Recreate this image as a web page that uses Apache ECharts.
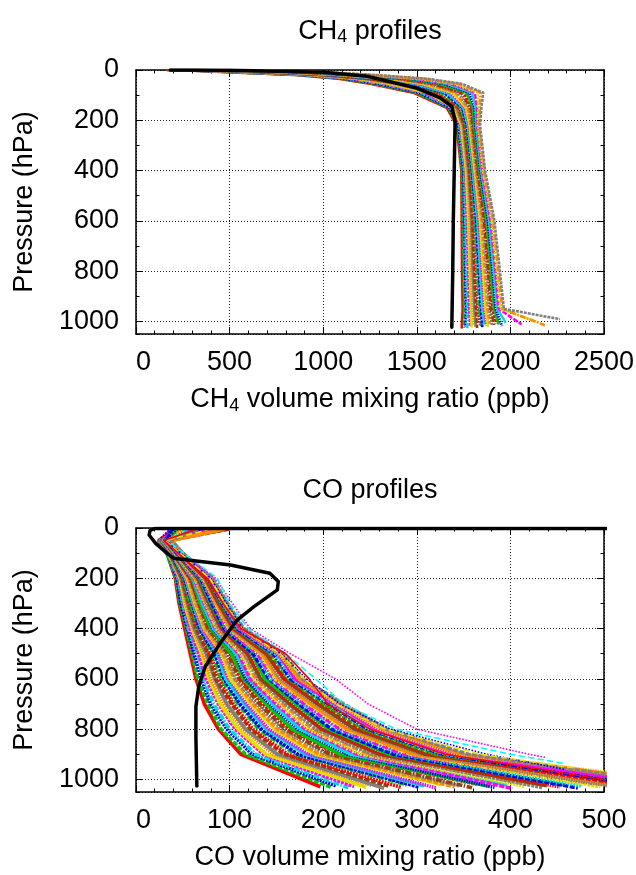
<!DOCTYPE html>
<html><head><meta charset="utf-8">
<script src="https://cdn.jsdelivr.net/npm/echarts@6/dist/echarts.min.js"></script>
<style>html,body{margin:0;padding:0;background:#fff}#c{width:636px;height:875px}</style>
</head><body><div id="c"></div>
<script>
// ---------------- CH4 panel data ----------------
const ch4Levels = [0, 3, 8, 20, 35, 55, 90, 150, 220, 400, 600, 800, 950]; // hPa
const ch4Profiles = [
  [160, 300, 450, 850, 1080, 1250, 1480, 1660, 1712, 1738, 1740, 1742, 1745],
  [170, 318, 475, 865, 1100, 1272, 1493, 1668, 1718, 1742, 1746, 1750, 1754],
  [175, 330, 492, 885, 1117, 1290, 1510, 1674, 1722, 1748, 1754, 1758, 1763],
  [180, 350, 518, 900, 1140, 1310, 1525, 1683, 1727, 1753, 1760, 1766, 1772],
  [186, 362, 540, 920, 1155, 1330, 1540, 1690, 1732, 1758, 1768, 1775, 1780],
  [192, 380, 560, 935, 1175, 1348, 1555, 1697, 1737, 1763, 1775, 1783, 1790],
  [198, 395, 583, 955, 1195, 1370, 1570, 1705, 1742, 1768, 1782, 1790, 1798],
  [205, 412, 605, 970, 1213, 1388, 1585, 1712, 1747, 1774, 1790, 1798, 1807],
  [211, 428, 625, 988, 1233, 1408, 1600, 1719, 1752, 1779, 1796, 1806, 1815],
  [218, 445, 648, 1005, 1252, 1426, 1615, 1727, 1757, 1784, 1803, 1815, 1824],
  [224, 460, 670, 1022, 1272, 1446, 1630, 1734, 1762, 1789, 1810, 1823, 1833],
  [230, 478, 692, 1040, 1290, 1466, 1645, 1741, 1767, 1794, 1817, 1831, 1842],
  [237, 492, 714, 1057, 1310, 1485, 1660, 1749, 1772, 1799, 1824, 1839, 1850],
  [243, 508, 736, 1074, 1330, 1505, 1675, 1756, 1777, 1804, 1831, 1847, 1859],
  [250, 525, 758, 1090, 1348, 1525, 1690, 1763, 1782, 1809, 1838, 1855, 1868],
  [256, 540, 780, 1108, 1368, 1544, 1705, 1771, 1787, 1814, 1845, 1863, 1877],
  [262, 556, 802, 1125, 1387, 1564, 1720, 1778, 1792, 1819, 1852, 1872, 1886],
  [269, 572, 824, 1142, 1406, 1583, 1735, 1786, 1797, 1824, 1859, 1880, 1894],
  [275, 588, 846, 1160, 1426, 1603, 1750, 1793, 1802, 1829, 1866, 1888, 1903],
  [282, 604, 868, 1177, 1445, 1622, 1765, 1800, 1807, 1834, 1873, 1896, 1912],
  [288, 620, 890, 1194, 1464, 1642, 1780, 1808, 1812, 1839, 1880, 1904, 1921],
  [294, 636, 912, 1211, 1483, 1662, 1795, 1815, 1817, 1844, 1887, 1912, 1930],
  [301, 652, 934, 1228, 1502, 1681, 1810, 1822, 1822, 1849, 1894, 1920, 1938],
  [307, 668, 956, 1246, 1522, 1701, 1825, 1830, 1827, 1854, 1901, 1928, 1947],
  [314, 684, 978, 1263, 1541, 1720, 1840, 1837, 1832, 1859, 1908, 1936, 1956],
  [320, 700, 1000, 1280, 1560, 1740, 1855, 1845, 1838, 1865, 1915, 1944, 1965]
];
const ch4SurfaceValue = [1740, 1752, 1760, 1770, 1785, 1792, 1805, 1815, 1822, 1838, 1845, 1850, 1862, 1870, 1882, 1890, 1902, 1915, 1925, 1938, 1955, 1975, 2060, 2150, 2185, 2265];
const ch4SurfacePressure = [1028, 1025, 1022, 1027, 1020, 1024, 1018, 1021, 1026, 1015, 1019, 1023, 1012, 1017, 1021, 1010, 1016, 1020, 1008, 1013, 1018, 1005, 1012, 1004, 1015, 991];
const ch4MeanValue = [183, 503, 1000, 1235, 1500, 1624, 1687, 1704, 1704, 1700, 1695, 1692, 1687];
const ch4MeanPressure = [0, 1, 9, 25, 72, 111, 145, 198, 225, 400, 600, 800, 1023];
const ch4XTicks = [0, 500, 1000, 1500, 2000, 2500];

// ---------------- CO panel data ----------------
const coLevels = [4, 50, 100, 200, 300, 400, 500, 600, 700, 800, 900]; // hPa
const coProfiles = [
  [45, 24, 33, 42, 46, 52, 58, 64, 73, 88, 112],
  [60, 24, 33, 43, 47, 54, 60, 66, 77, 91, 117],
  [38, 25, 34, 44, 48, 55, 62, 70, 80, 97, 124],
  [72, 25, 34, 45, 50, 56, 66, 72, 83, 100, 128],
  [55, 25, 35, 46, 51, 58, 67, 75, 88, 106, 136],
  [90, 26, 35, 47, 52, 60, 70, 78, 90, 109, 139],
  [48, 26, 35, 48, 53, 61, 72, 80, 94, 114, 147],
  [66, 26, 36, 48, 55, 62, 75, 84, 97, 117, 151],
  [82, 27, 36, 49, 56, 64, 77, 85, 102, 122, 158],
  [40, 27, 37, 50, 57, 66, 79, 89, 104, 125, 162],
  [95, 27, 37, 51, 58, 67, 82, 91, 109, 131, 170],
  [58, 28, 37, 52, 60, 68, 84, 94, 111, 134, 173],
  [76, 28, 38, 53, 61, 70, 87, 96, 116, 139, 181],
  [44, 28, 38, 54, 62, 71, 88, 99, 118, 142, 184],
  [100, 29, 39, 55, 63, 73, 92, 101, 123, 148, 192],
  [62, 29, 39, 56, 64, 74, 93, 105, 125, 151, 196],
  [85, 29, 39, 57, 66, 76, 96, 106, 129, 156, 203],
  [50, 30, 40, 58, 67, 77, 98, 110, 132, 159, 207],
  [70, 30, 40, 58, 68, 79, 101, 112, 136, 164, 215],
  [92, 30, 41, 60, 69, 80, 102, 115, 139, 167, 218],
  [42, 31, 41, 61, 71, 82, 106, 117, 143, 173, 226],
  [78, 31, 41, 61, 71, 83, 107, 121, 146, 176, 230],
  [56, 31, 42, 62, 73, 85, 110, 122, 150, 181, 237],
  [88, 32, 42, 63, 74, 86, 112, 126, 153, 184, 241],
  [47, 32, 43, 64, 75, 88, 115, 128, 157, 189, 249],
  [68, 32, 43, 65, 76, 89, 116, 131, 160, 192, 252],
  [97, 32, 43, 66, 78, 91, 119, 133, 164, 198, 260],
  [53, 33, 44, 67, 79, 92, 121, 137, 167, 201, 264],
  [74, 33, 44, 68, 80, 94, 124, 138, 171, 206, 271],
  [39, 33, 44, 69, 81, 94, 125, 142, 174, 209, 275],
  [86, 34, 45, 70, 83, 96, 129, 144, 178, 215, 283],
  [64, 34, 45, 71, 84, 97, 130, 147, 180, 218, 286],
  [91, 34, 46, 72, 85, 99, 133, 149, 185, 223, 294],
  [49, 35, 46, 73, 86, 101, 135, 152, 187, 226, 297],
  [80, 35, 46, 74, 88, 102, 138, 154, 192, 231, 305],
  [58, 35, 47, 74, 88, 104, 139, 158, 194, 234, 309],
  [99, 36, 47, 75, 90, 105, 143, 159, 199, 240, 316],
  [43, 36, 48, 76, 91, 107, 144, 163, 201, 243, 320],
  [71, 36, 48, 77, 92, 108, 147, 165, 206, 248, 328],
  [60, 37, 48, 78, 93, 110, 149, 168, 208, 251, 331],
  [84, 37, 49, 79, 95, 111, 152, 170, 213, 256, 339],
  [52, 37, 49, 80, 96, 113, 153, 174, 215, 260, 343],
  [95, 38, 50, 81, 97, 114, 156, 175, 220, 265, 350],
  [66, 38, 50, 82, 98, 115, 158, 178, 222, 268, 355]
];
const coSurfaceValue = [197, 208, 214, 227, 233, 246, 252, 265, 270, 284, 290, 302, 308, 321, 327, 340, 345, 359, 364, 378, 383, 396, 402, 415, 421, 434, 439, 453, 458, 472, 477, 490, 496, 509, 515, 528, 534, 547, 552, 566, 571, 584, 590, 548];
const coSurfacePressure = [1029, 1030, 1026, 1033, 1028, 1031, 1024, 1035, 1027, 1032, 1022, 1030, 1026, 1034, 1021, 1029, 1025, 1033, 1019, 1028, 1031, 1023, 1036, 1027, 1020, 1032, 1025, 1030, 1022, 1034, 1026, 1018, 1029, 1024, 1032, 1016, 1027, 1021, 1030, 1012, 1025, 1008, 1020, 1005];
// a few profiles standing out on the high side
const coOutlierProfiles = [
  [60, 32, 48, 85, 103, 122, 165, 213, 248, 300, 420],
  [55, 33, 51, 87, 100, 120, 160, 192, 222, 278, 400],
  [45, 31, 48, 80, 97, 114, 155, 182, 218, 272, 375],
  [80, 31, 47, 79, 95, 113, 154, 180, 214, 266, 368],
  [65, 30, 45, 76, 93, 112, 160, 185, 205, 250, 330]
];
const coOutlierSurfaceValue = [437, 458, 458, 470, 520];
const coOutlierSurfacePressure = [912, 937, 960, 955, 1012];
const coOutlierColors = ['#ff00ff', '#00ffff', '#0000ff', '#e6e600', '#ff0000'];
const coOutlierDashes = ['dotted', 'dashed', 'dotted', 'dashed', 'solid'];
const coMeanValue = [2000, 20, 15, 14, 21, 33, 40, 62, 101, 143, 152, 151, 126, 108, 90, 74, 67, 64, 64, 65];
const coMeanPressure = [0.5, 2, 10, 28, 61, 100, 120, 130, 147, 180, 213, 246, 313, 366, 458, 551, 631, 710, 830, 1026];
const coXTicks = [0, 100, 200, 300, 400, 500];

const pressureTicks = [0, 200, 400, 600, 800, 1000];
const pressureMax = 1050;

// ---------------- styling ----------------
const FONT = "'Liberation Sans', Arial, Helvetica, sans-serif";
const FS = 27;
const bandColors = ['#ff0000', '#00c800', '#0000ff', '#00dcdc', '#ff00ff', '#e0e000', '#ff8c00', '#808080', '#8b4513'];
const bandDashes = ['solid', [5, 1.5], [2, 1], [6, 1.5, 1.5, 1.5], [3, 1], 'solid', [1.5, 1]];
const black = '#000';
const boxLine = {color: black, width: 1.5};
const gridDots = {color: '#222', width: 1, type: [1, 2]};
const subRich = {s: {fontSize: 18, lineHeight: 14, verticalAlign: 'bottom', fontFamily: FONT, color: black}};
const nameStyle = {fontSize: FS, lineHeight: 30, fontFamily: FONT, color: black, rich: subRich};

function xAxes(gi, ticks, name) {
  const base = {gridIndex: gi, type: 'value', min: ticks[0], max: ticks[ticks.length - 1],
    interval: ticks[1] - ticks[0]};
  return [
    Object.assign({}, base, {
      position: 'bottom',
      axisLine: {show: true, onZero: false, lineStyle: boxLine},
      axisTick: {show: true, inside: true, length: 7, lineStyle: {color: black, width: 1}},
      minorTick: {show: true, splitNumber: 5, length: 3.5, lineStyle: {color: black, width: 1}},
      splitLine: {show: true, lineStyle: gridDots},
      axisLabel: {show: true, fontSize: FS, fontFamily: FONT, color: black, margin: 15,
        alignMinLabel: 'left', formatter: v => String(v)},
      name: name, nameLocation: 'middle', nameGap: 51, nameTextStyle: nameStyle
    }),
    Object.assign({}, base, {
      position: 'top',
      axisLine: {show: true, onZero: false, lineStyle: boxLine},
      axisTick: {show: true, inside: true, length: 7, lineStyle: {color: black, width: 1}},
      minorTick: {show: true, splitNumber: 5, length: 3.5, lineStyle: {color: black, width: 1}},
      splitLine: {show: false}, axisLabel: {show: false}
    })
  ];
}
function yAxes(gi) {
  const base = {gridIndex: gi, type: 'value', inverse: true, min: pressureTicks[0], max: pressureMax};
  const step = pressureTicks[1] - pressureTicks[0];
  return [
    Object.assign({}, base, {
      position: 'left', interval: step,
      axisLine: {show: true, onZero: false, lineStyle: boxLine},
      axisTick: {show: true, inside: true, length: 7, lineStyle: {color: black, width: 1}},
      splitLine: {show: true, lineStyle: gridDots},
      axisLabel: {show: true, fontSize: FS, fontFamily: FONT, color: black, margin: 17,
        showMaxLabel: false, formatter: v => pressureTicks.indexOf(v) >= 0 ? String(v) : ''},
      name: 'Pressure (hPa)', nameLocation: 'middle', nameRotate: 90, nameGap: 96,
      nameTextStyle: {fontSize: FS, lineHeight: 30, fontFamily: FONT, color: black}
    }),
    Object.assign({}, base, {
      position: 'right', interval: step,
      axisLine: {show: true, onZero: false, lineStyle: boxLine},
      axisTick: {show: true, inside: true, length: 7, lineStyle: {color: black, width: 1}},
      splitLine: {show: false}, axisLabel: {show: false}
    }),
    Object.assign({}, base, {
      position: 'left', interval: step / 2,
      axisLine: {show: false, onZero: false},
      axisTick: {show: true, inside: true, length: 3.5, lineStyle: {color: black, width: 1}},
      splitLine: {show: false}, axisLabel: {show: false}
    }),
    Object.assign({}, base, {
      position: 'right', interval: step / 2,
      axisLine: {show: false, onZero: false},
      axisTick: {show: true, inside: true, length: 3.5, lineStyle: {color: black, width: 1}},
      splitLine: {show: false}, axisLabel: {show: false}
    })
  ];
}

function profileSeries(levels, profiles, sv, sp, xi, yi, width, colors, dashes) {
  return profiles.map((vals, k) => {
    const data = vals.map((v, j) => [v, levels[j]]);
    data.push([sv[k], sp[k]]);
    return {
      type: 'line', xAxisIndex: xi, yAxisIndex: yi, data: data,
      symbol: 'none', showSymbol: false, silent: true, animation: false, clip: true, z: 2,
      lineStyle: {color: colors[k % colors.length], width: width, type: dashes[k % dashes.length]}
    };
  });
}
function meanSeries(vals, pres, xi, yi) {
  return {
    type: 'line', xAxisIndex: xi, yAxisIndex: yi, data: vals.map((v, j) => [v, pres[j]]),
    symbol: 'none', showSymbol: false, silent: true, animation: false, clip: true, z: 5,
    lineStyle: {color: black, width: 3.5, type: 'solid', cap: 'round', join: 'round'}
  };
}

const series = []
  .concat(profileSeries(ch4Levels, ch4Profiles, ch4SurfaceValue, ch4SurfacePressure, 0, 0, 2.6, bandColors, bandDashes))
  .concat([meanSeries(ch4MeanValue, ch4MeanPressure, 0, 0)])
  .concat(profileSeries(coLevels, coProfiles, coSurfaceValue, coSurfacePressure, 2, 4, 3.6, bandColors, bandDashes))
  .concat(profileSeries(coLevels, coOutlierProfiles, coOutlierSurfaceValue, coOutlierSurfacePressure, 2, 4, 1.6, coOutlierColors, coOutlierDashes))
  .concat([meanSeries(coMeanValue, coMeanPressure, 2, 4)]);

const titleStyle = {fontSize: FS, lineHeight: 30, fontFamily: FONT, fill: black, align: 'center', verticalAlign: 'middle',
  rich: {s: {fontSize: 18, lineHeight: 14, verticalAlign: 'bottom', fontFamily: FONT, fill: black}}};

const chart = echarts.init(document.getElementById('c'), null, {renderer: 'canvas'});
chart.setOption({
  backgroundColor: '#fff',
  animation: false,
  grid: [
    {left: 136, top: 70, width: 468, height: 264, outerBoundsMode: 'none', containLabel: false},
    {left: 136, top: 528, width: 468, height: 264, outerBoundsMode: 'none', containLabel: false}
  ],
  xAxis: xAxes(0, ch4XTicks, 'CH{s|4} volume mixing ratio (ppb)').concat(xAxes(1, coXTicks, 'CO volume mixing ratio (ppb)')),
  yAxis: yAxes(0).concat(yAxes(1)),
  graphic: [
    {type: 'text', x: 370, y: 31.5, style: Object.assign({text: 'CH{s|4} profiles'}, titleStyle)},
    {type: 'text', x: 370, y: 490.5, style: Object.assign({text: 'CO profiles'}, titleStyle)}
  ],
  series: series
});
</script>
</body></html>
